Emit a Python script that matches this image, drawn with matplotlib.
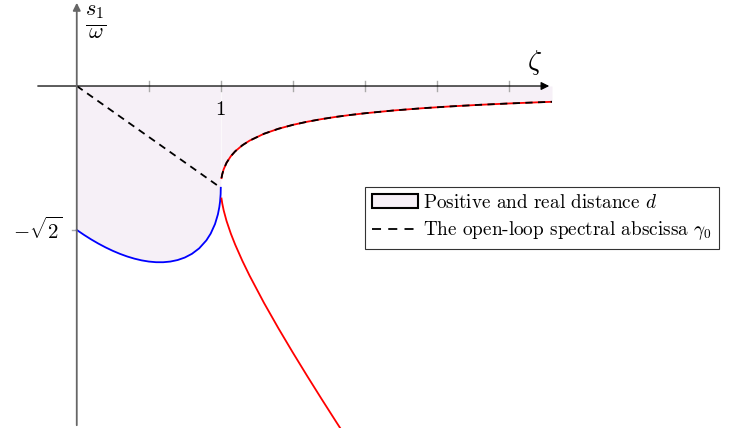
'''
Root locus of s1/omega against damping ratio zeta
'''
import matplotlib.pyplot as plt
from matplotlib.patches import Patch
from matplotlib.lines import Line2D

plt.rcParams['mathtext.fontset'] = 'cm'
plt.rcParams['font.family'] = ['cmr10', 'DejaVu Serif']
plt.rcParams['axes.unicode_minus'] = False

#%%
'''
data (read off the picture)
'''
# underdamped part, zeta < 1
zeta_blue = [0, 0.05, 0.1, 0.15, 0.2, 0.25, 0.3, 0.35, 0.4, 0.45, 0.5, 0.55, 0.6,
             0.65, 0.7, 0.75, 0.8, 0.85, 0.9, 0.93, 0.96, 0.98, 0.99, 0.995, 0.999, 1.0]
s_blue = [-1.4142, -1.4624, -1.5071, -1.5482, -1.5856, -1.6193, -1.6491, -1.6748,
          -1.6961, -1.7129, -1.7247, -1.7311, -1.7314, -1.7247, -1.7100, -1.6854,
          -1.6485, -1.5950, -1.5164, -1.4498, -1.3560, -1.2614, -1.1895, -1.1362,
          -1.0622, -1.0]

# overdamped part, zeta > 1 (two real roots)
zeta_red = [1.005, 1.01, 1.02, 1.04, 1.07, 1.1, 1.15, 1.2, 1.3, 1.4, 1.5, 1.6, 1.7,
            1.8, 1.9, 2.0, 2.2, 2.4, 2.6, 2.8, 3.0, 3.2, 3.3]
s_red_upper = [-0.9049, -0.8682, -0.8190, -0.7543, -0.6893, -0.6417, -0.5821, -0.5367,
               -0.4693, -0.4202, -0.3820, -0.3510, -0.3252, -0.3033, -0.2845, -0.2679,
               -0.2404, -0.2183, -0.2000, -0.1847, -0.1716, -0.1603, -0.1552]
s_red_lower = [-1.1051, -1.1518, -1.2210, -1.3257, -1.4507, -1.5583, -1.7179, -1.8633,
               -2.1307, -2.3798, -2.6180, -2.8490, -3.0748, -3.2967, -3.5155]

# open-loop spectral abscissa for zeta < 1
zeta_dash = [0, 1.0]
s_dash = [0, -1.0]

x_ticks = [0.5, 1.0, 1.5, 2.0, 2.5, 3.0]

fill_col = '#F6F0F7'

#%%
'''
plot
'''
fig = plt.figure(figsize=(7.32, 4.34), dpi=100)
ax = fig.add_axes([35 / 732, 6 / 434, 517 / 732, 428 / 434])
ax.set_xlim(-0.29, 3.30)
ax.set_ylim(-3.36, 0.845)
ax.axis('off')

# shaded distance region
ax.fill_between(zeta_blue, 0, s_blue, color=fill_col, lw=0)
ax.fill_between(zeta_red, 0, s_red_upper, color=fill_col, lw=0)

# axes with arrows
ax.annotate('', xy=(3.30, 0), xytext=(-0.29, 0),
            arrowprops=dict(arrowstyle='-|>', color='black', lw=0.9, mutation_scale=12))
ax.annotate('', xy=(0, 0.845), xytext=(0, -3.36),
            arrowprops=dict(arrowstyle='-|>', color='#666666', lw=1.3, mutation_scale=11))
for t in x_ticks:
    ax.plot([t, t], [-0.05, 0.05], color='#aaaaaa', lw=1.0)
ax.plot([-0.035, 0], [-1.4142, -1.4142], color='#aaaaaa', lw=1.0)

# curves
ax.plot(zeta_blue, s_blue, color='blue', lw=1.3)
ax.plot(zeta_red, s_red_upper, color='red', lw=1.3)
ax.plot(zeta_red[:len(s_red_lower)], s_red_lower, color='red', lw=1.3)
ax.plot(zeta_dash, s_dash, color='black', lw=1.3, dashes=(4, 3))
ax.plot(zeta_red, s_red_upper, color='black', lw=1.3, dashes=(4, 3))

# labels
ax.text(1.0, -0.24, '1', fontsize=15, ha='center', va='center')
ax.text(3.18, 0.235, r'$\zeta$', fontsize=20, ha='center', va='center')
ax.text(0.135, 0.63, r'$\frac{s_1}{\omega}$', fontsize=23, ha='center', va='center')
ax.text(-0.1, -1.4142, r'$-\sqrt{2}$', fontsize=15, ha='right', va='center')

handles = [Patch(facecolor=fill_col, edgecolor='black', linewidth=1.5),
           Line2D([0], [0], color='black', lw=1.3, dashes=(5, 4))]
labels = [r'Positive and real distance $d$',
          r'The open-loop spectral abscissa $\gamma_0$']
leg = fig.legend(handles, labels, loc='upper left', bbox_to_anchor=(365 / 732, 1 - 187 / 434),
                 fontsize=13.8, frameon=True, fancybox=False, edgecolor='black',
                 handlelength=2.4, handletextpad=0.3, borderpad=0.35, labelspacing=0.4,
                 borderaxespad=0)
leg.get_frame().set_linewidth(0.8)

plt.savefig('out.png', dpi=100)
